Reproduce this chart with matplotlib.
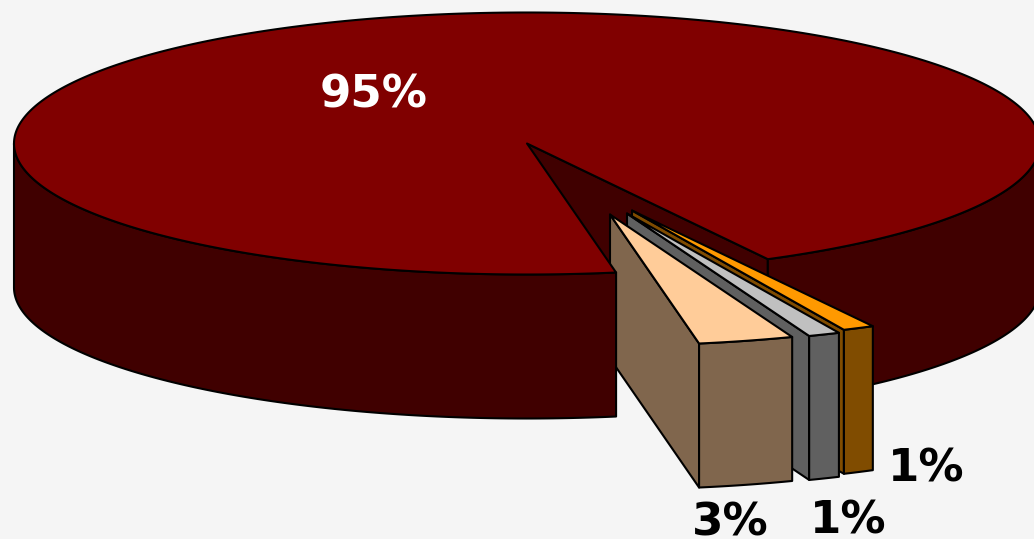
import numpy as np
import matplotlib
matplotlib.use('Agg')
import matplotlib.pyplot as plt

# data
shares = [95, 3, 1, 1]
topColors = ['#800000', '#FFCC99', '#C0C0C0', '#FF9900']
sideColors = ['#400000', '#80664D', '#606060', '#804C00']
labelColors = ['white', 'black', 'black', 'black']

# pie geometry, in pixels of the picture
cx, cy = 527, 143.5
rx, ry = 513, 131
depth = 144
startAngle = 80
explodeOffsets = [(0, 0), (83, 71), (100, 70), (105, 67)]
labelPositions = [(374, 108), (730, 536), (848, 533), (926, 482)]
edgeWidth = 1.5


def rim(a, b, off=(0, 0)):
    # points on the ellipse from angle a to b, y axis points down
    n = max(int(abs(b - a) * 2), 2)
    t = np.radians(np.linspace(a, b, n))
    return cx + off[0] + rx * np.cos(t), cy + off[1] + ry * np.sin(t)


def poly(ax, xs, ys, color):
    ax.fill(xs, ys, facecolor=color, edgecolor='black', linewidth=edgeWidth, joinstyle='round')


def wall(ax, a, b, color, off=(0, 0)):
    x, y = rim(a, b, off)
    poly(ax, np.r_[x, x[::-1]], np.r_[y, y[::-1] + depth], color)


def cutFace(ax, angle, color, off=(0, 0)):
    x, y = rim(angle, angle, off)
    ox, oy = cx + off[0], cy + off[1]
    poly(ax, [ox, x[0], x[0], ox], [oy, y[0], y[0] + depth, oy + depth], color)


def top(ax, a, b, color, off=(0, 0)):
    x, y = rim(a, b, off)
    poly(ax, np.r_[cx + off[0], x], np.r_[cy + off[1], y], color)


fig = plt.figure(figsize=(10.34, 5.39), dpi=100, facecolor='#F5F5F5')
ax = fig.add_axes([0, 0, 1, 1])
ax.set_xlim(0, 1034)
ax.set_ylim(539, 0)
ax.axis('off')

# angle spans: the big slice runs clockwise from startAngle, the others go back from it
sweeps = [s * 3.6 for s in shares]
bigEnd = startAngle + sweeps[0]
spans = []
a = startAngle
for sw in sweeps[1:]:
    spans.append((a, a - sw))
    a -= sw

# back part of the big slice, the wall starts right of the picture edge
cutFace(ax, bigEnd - 360, sideColors[0])
wall(ax, 0, bigEnd - 360, sideColors[0])

# exploded slices, back to front
for i in range(3, 0, -1):
    a, b = spans[i - 1]
    cutFace(ax, a, sideColors[i], explodeOffsets[i])
    wall(ax, b, a, sideColors[i], explodeOffsets[i])
    top(ax, a, b, topColors[i], explodeOffsets[i])

# front part of the big slice goes over the apex of the slices
wall(ax, startAngle, 180, sideColors[0])
top(ax, startAngle, bigEnd, topColors[0])

for s, pos, col in zip(shares, labelPositions, labelColors):
    ax.text(pos[0], pos[1], f'{s}%', color=col, fontsize=32.5, fontweight='bold',
            family='DejaVu Sans', ha='center', va='baseline')

fig.savefig('out.png', dpi=100, facecolor=fig.get_facecolor())
